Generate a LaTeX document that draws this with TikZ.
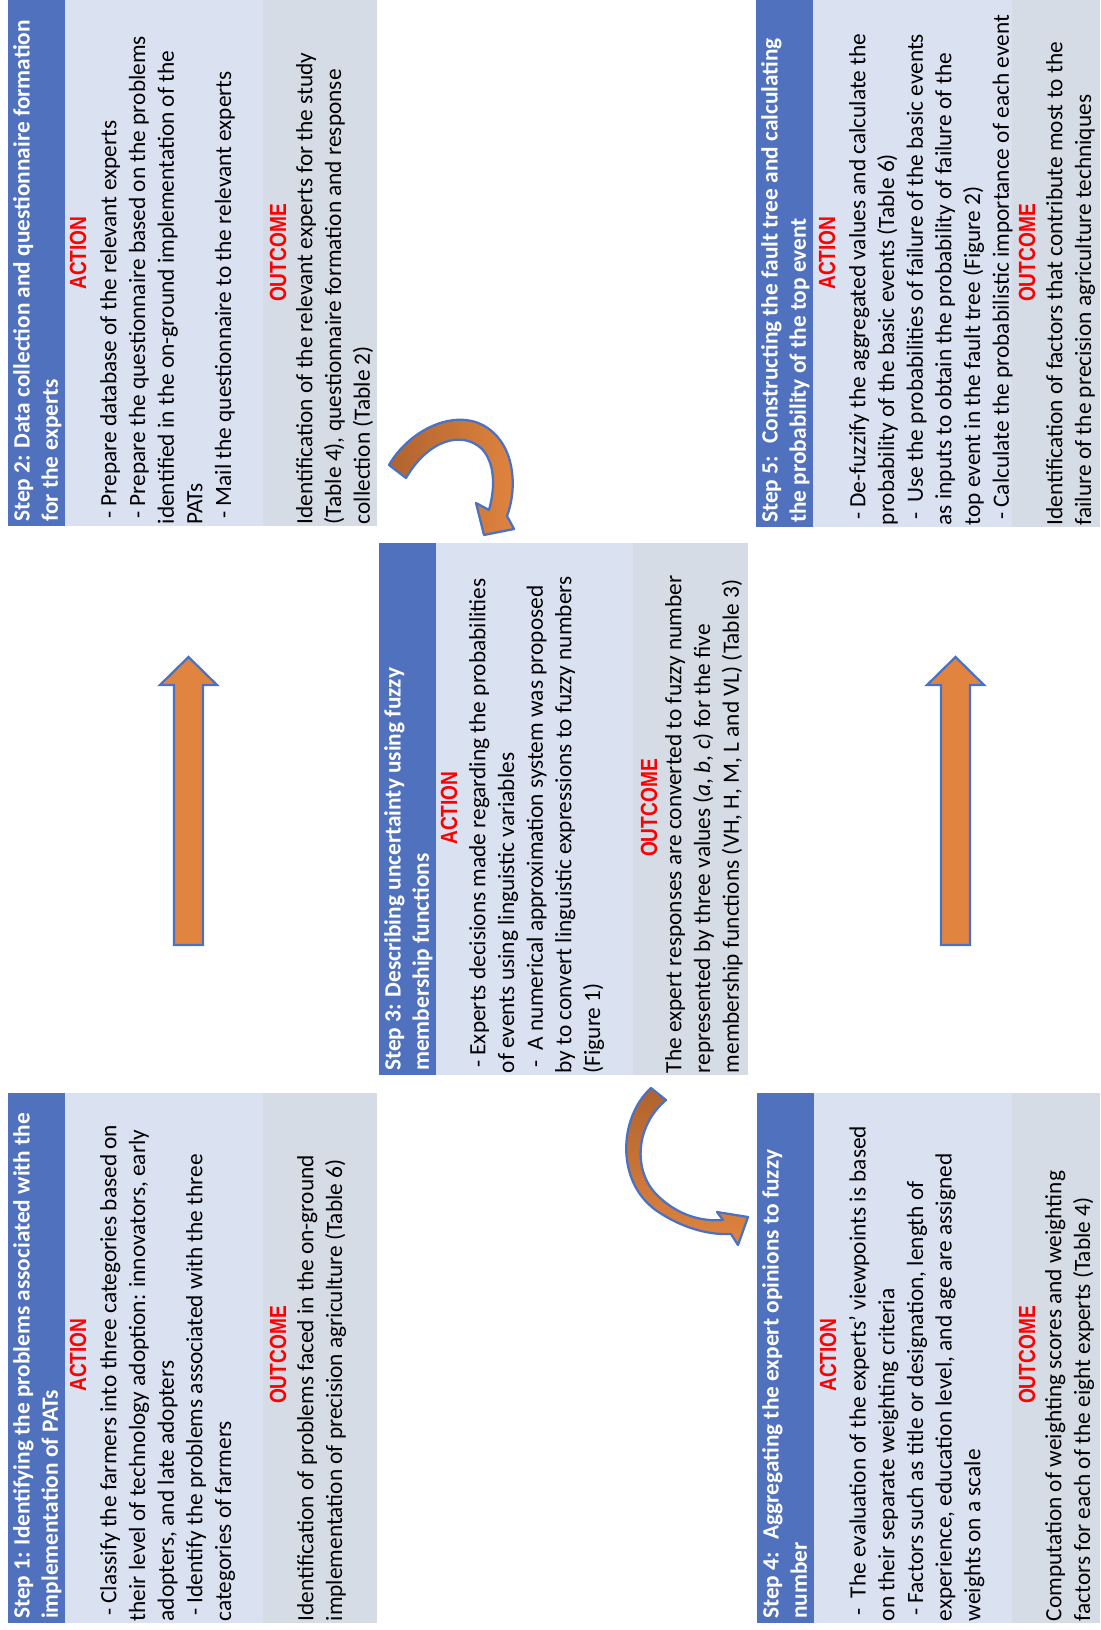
\documentclass[tikz,border=0pt]{standalone}
\usepackage{fontspec}
\setmainfont{Carlito}
\newfontfamily\narrowbold[FakeStretch=0.82]{Liberation Sans Bold}
\newcommand{\dashpad}{\hspace*{0.23em}}
\definecolor{hdr}{HTML}{4F71BE}
\definecolor{actbg}{HTML}{DAE1F1}
\definecolor{outbg}{HTML}{D6DCE5}
\definecolor{arrfill}{HTML}{E0843F}
\definecolor{arrdark}{HTML}{B0632E}
\definecolor{arredge}{HTML}{4A72C4}
\begin{document}
\begin{tikzpicture}[x=0.75pt,y=-0.75pt,
  txt/.style={rotate=90, anchor=north west, inner sep=0pt, align=left,
              font=\fontsize{17.5}{21.5}\selectfont},
  head/.style={txt, text=white, font=\fontsize{17.5}{21.2}\selectfont\bfseries},
  lbl/.style={rotate=90, anchor=center, inner sep=0pt, text=red,
              font=\narrowbold\fontsize{17.5}{21}\selectfont},
  blockarrow/.style={draw=arredge, line width=1.7pt, line join=miter, fill=arrfill},
  bentarrow/.style={draw=arredge, line width=1.7pt, line join=round}]

\useasboundingbox (0,0) rectangle (1100,1630);

% ---------- Step 1 ----------
\fill[actbg] (8,1093) rectangle (377,1623);
\fill[outbg] (263,1093) rectangle (377,1623);
\fill[hdr] (8,1093) rectangle (65,1623);
\node[head] (s1head) at (13,1619) {Step 1: Identifying the problems associated with the\\implementation of PATs};
\node[lbl] (s1act) at (78,1355) {ACTION};
\node[txt] (s1text) at (100,1621.5) {\dashpad- Classify the farmers into three categories based on\\their level of technology adoption: innovators, early\\adopters, and late adopters\\\dashpad- Identify the problems associated with the three\\categories of farmers};
\node[lbl] (s1out) at (278,1355) {OUTCOME};
\node[txt] (s1res) at (297,1621.5) {Identification of problems faced in the on-ground\\implementation of precision agriculture (Table 6)};

% ---------- Step 2 ----------
\fill[actbg] (8,0) rectangle (377,526);
\fill[outbg] (263,0) rectangle (377,526);
\fill[hdr] (8,0) rectangle (65,526);
\node[head] (s2head) at (13,522) {Step 2: Data collection and questionnaire formation\\for the experts};
\node[lbl] (s2act) at (78,253) {ACTION};
\node[txt] (s2text) at (100,524.5) {\dashpad- Prepare database of the relevant experts\\\dashpad- Prepare the questionnaire based on the problems\\identified in the on-ground implementation of the\\PATs\\\dashpad- Mail the questionnaire to the relevant experts};
\node[lbl] (s2out) at (278,253) {OUTCOME};
\node[txt] (s2res) at (296,524.5) {Identification of the relevant experts for the study\\(Table 4), questionnaire formation and response\\collection (Table 2)};

% ---------- Step 3 ----------
\fill[actbg] (379,543) rectangle (748,1075);
\fill[outbg] (633,543) rectangle (748,1075);
\fill[hdr] (379,543) rectangle (436,1075);
\node[head] (s3head) at (384,1071) {Step 3: Describing uncertainty using fuzzy\\membership functions};
\node[lbl] (s3act) at (449,808) {ACTION};
\node[txt] (s3text) at (469,1073.5) {\dashpad- Experts decisions made regarding the probabilities\\of events using linguistic variables\\\dashpad- \ A numerical approximation system was proposed\\by to convert linguistic expressions to fuzzy numbers\\(Figure 1)};
\node[lbl] (s3out) at (649,808) {OUTCOME};
\node[txt] (s3res) at (665,1073.5) {The expert responses are converted to fuzzy number\\represented by three values (\textit{a}, \textit{b}, \textit{c}) for the five\\membership functions (VH, H, M, L and VL) (Table 3)};

% ---------- Step 4 ----------
\fill[actbg] (757,1093) rectangle (1100,1623);
\fill[outbg] (1012,1093) rectangle (1100,1623);
\fill[hdr] (757,1093) rectangle (814,1623);
\node[head] (s4head) at (762,1619) {Step 4: \ Aggregating the expert opinions to fuzzy\\number};
\node[lbl] (s4act) at (828,1355) {ACTION};
\node[txt] (s4text) at (849,1621.5) {\dashpad- \ The evaluation of the experts’ viewpoints is based\\on their separate weighting criteria\\\dashpad- Factors such as title or designation, length of\\experience, education level, and age are assigned\\weights on a scale};
\node[lbl] (s4out) at (1027,1355) {OUTCOME};
\node[txt] (s4res) at (1045,1621.5) {Computation of weighting scores and weighting\\factors for each of the eight experts (Table 4)};

% ---------- Step 5 ----------
\fill[actbg] (756,0) rectangle (1100,527);
\fill[outbg] (1012,0) rectangle (1100,527);
\fill[hdr] (756,0) rectangle (813,527);
\node[head] (s5head) at (761,523) {Step 5: \ Constructing the fault tree and calculating\\the probability of the top event};
\node[lbl] (s5act) at (827,253) {ACTION};
\node[txt] (s5text) at (849,525.5) {\dashpad- De-fuzzify the aggregated values and calculate the\\probability of the basic events (Table 6)\\\dashpad- \ Use the probabilities of failure of the basic events\\as inputs to obtain the probability of failure of the\\top event in the fault tree (Figure 2)\\\dashpad- Calculate the probabilistic importance of each event};
\node[lbl] (s5out) at (1027,253) {OUTCOME};
\node[txt] (s5res) at (1046,525.5) {Identification of factors that contribute most to the\\failure of the precision agriculture techniques};

% ---------- straight block arrows (step 1 -> step 2, step 4 -> step 5) ----------
\draw[blockarrow] (174,945) -- (174,685) -- (160,685) -- (188.5,657) -- (217,685)
  -- (203,685) -- (203,945) -- cycle;
\draw[blockarrow] (941,945) -- (941,685) -- (927,685) -- (955.5,657) -- (984,685)
  -- (970,685) -- (970,945) -- cycle;

% ---------- curved arrow: step 2 -> step 3 ----------
\draw[bentarrow, left color=arrdark, right color=arrfill]
  (389,465) .. controls (412,425) and (470,400) .. (500,440)
  .. controls (515,460) and (516,492) .. (507,516)
  -- (514,529) -- (484,535) -- (476,503) -- (489,510)
  .. controls (496,485) and (494,462) .. (482,449)
  .. controls (462,430) and (428,440) .. (406,478) -- cycle;

% ---------- curved arrow: step 3 -> step 4 ----------
\draw[bentarrow, top color=arrdark, bottom color=arrfill]
  (651,1088) .. controls (618,1118) and (615,1185) .. (660,1213)
  .. controls (685,1229) and (710,1235) .. (731,1234)
  -- (738,1245) -- (748,1217) -- (717,1212) -- (723,1220)
  .. controls (700,1222) and (676,1214) .. (657,1195)
  .. controls (632,1170) and (636,1125) .. (666,1100) -- cycle;
\end{tikzpicture}
\end{document}
